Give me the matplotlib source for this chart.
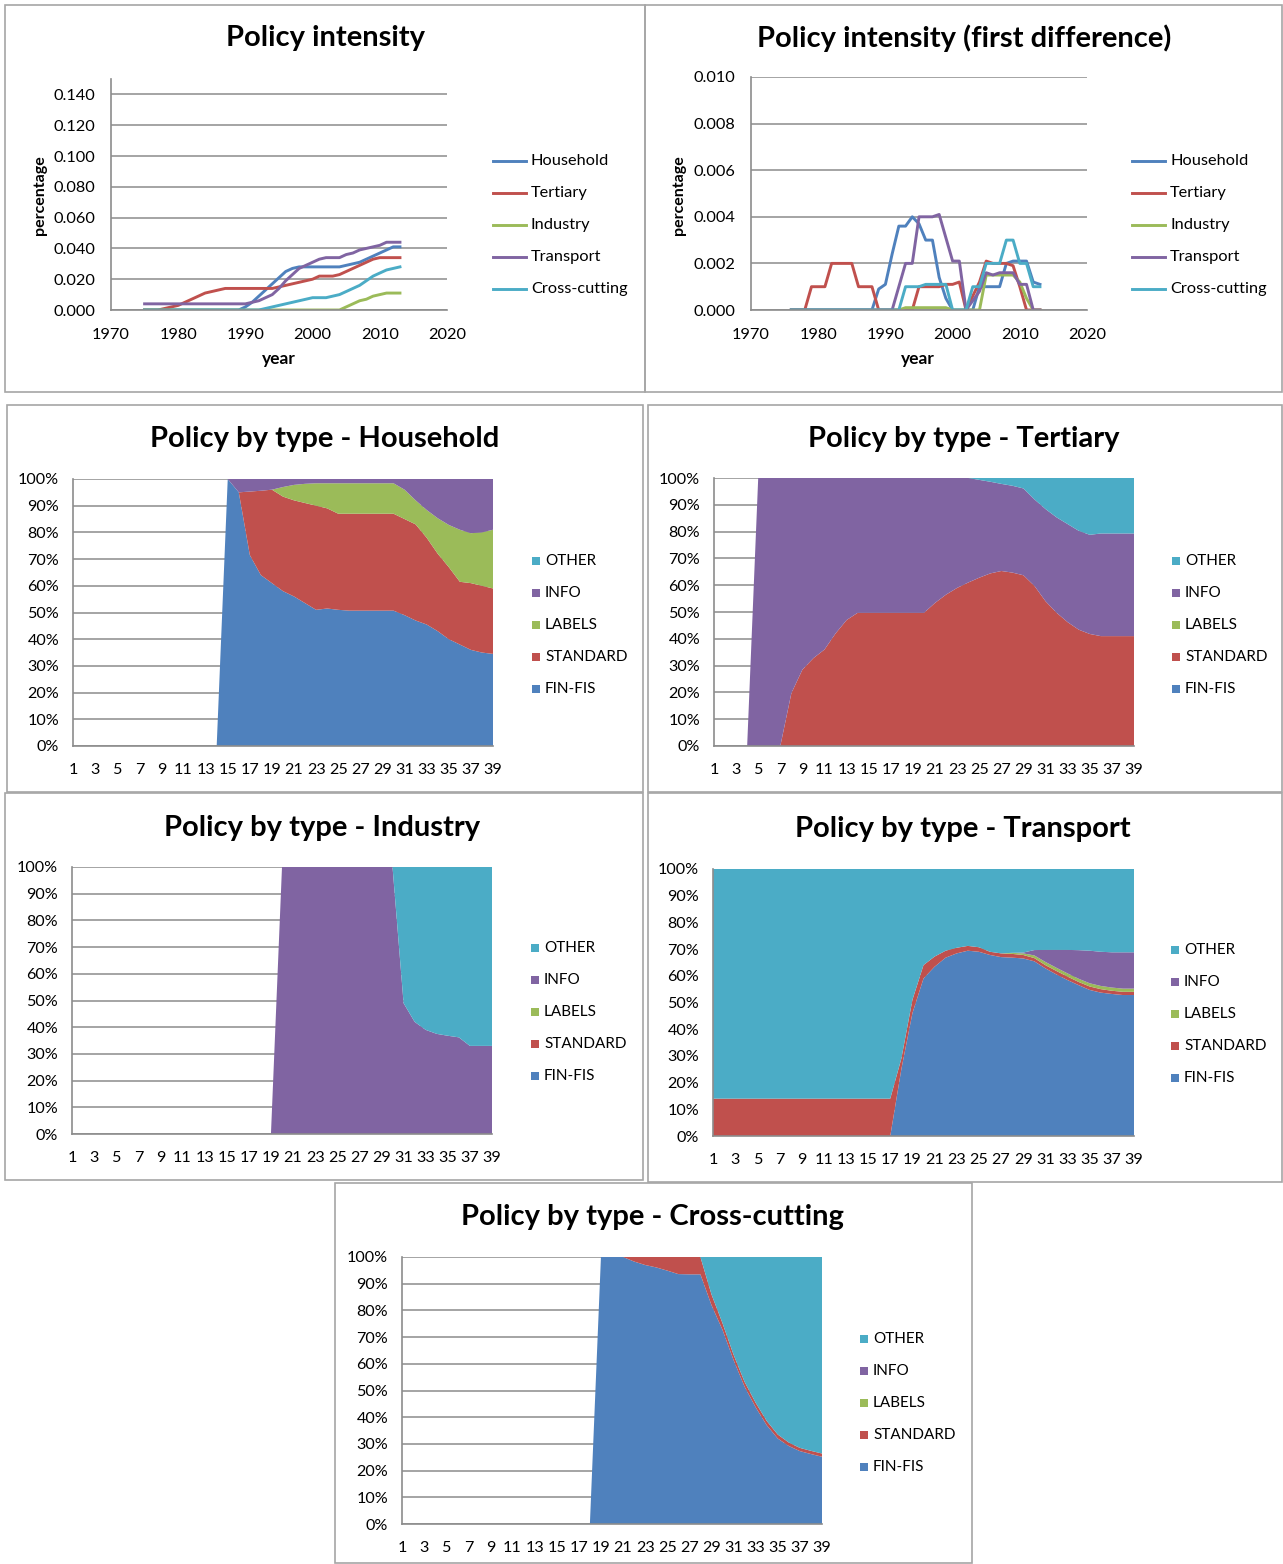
import numpy as np
import matplotlib
matplotlib.use("Agg")
import matplotlib.pyplot as plt
from matplotlib.patches import Rectangle
from matplotlib.lines import Line2D
from matplotlib.ticker import FuncFormatter

plt.rcParams['font.family'] = ['Lato', 'DejaVu Sans']

W, H = 1283, 1564

# ---- policy intensity, yearly 1975-2013 ----
years = list(range(1975, 2014))
intensity_household = [0, 0, 0, 0, 0, 0, 0, 0, 0, 0, 0, 0, 0, 0, 0,
                       0.002, 0.005, 0.009, 0.013, 0.017, 0.021, 0.025, 0.027, 0.028, 0.028,
                       0.028, 0.028, 0.028, 0.028, 0.028, 0.029, 0.030, 0.031, 0.033, 0.035,
                       0.037, 0.039, 0.041, 0.041]
intensity_tertiary = [0, 0, 0, 0.001, 0.002, 0.003, 0.005, 0.007, 0.009, 0.011,
                      0.012, 0.013, 0.014, 0.014, 0.014, 0.014, 0.014, 0.014, 0.014, 0.014,
                      0.015, 0.016, 0.017, 0.018, 0.019, 0.020, 0.022, 0.022, 0.022, 0.023,
                      0.025, 0.027, 0.029, 0.031, 0.033, 0.034, 0.034, 0.034, 0.034]
intensity_industry = [0, 0, 0, 0, 0, 0, 0, 0, 0, 0, 0, 0, 0, 0, 0, 0, 0, 0, 0, 0,
                      0, 0, 0, 0, 0, 0, 0, 0, 0, 0,
                      0.002, 0.004, 0.006, 0.007, 0.009, 0.010, 0.011, 0.011, 0.011]
intensity_transport = [0.004, 0.004, 0.004, 0.004, 0.004, 0.004, 0.004, 0.004, 0.004, 0.004,
                       0.004, 0.004, 0.004, 0.004, 0.004, 0.004, 0.005, 0.006, 0.008, 0.010,
                       0.014, 0.019, 0.023, 0.027, 0.029, 0.031, 0.033, 0.034, 0.034, 0.034,
                       0.036, 0.037, 0.039, 0.040, 0.041, 0.042, 0.044, 0.044, 0.044]
intensity_cross = [0, 0, 0, 0, 0, 0, 0, 0, 0, 0, 0, 0, 0, 0, 0, 0, 0, 0,
                   0.001, 0.002, 0.003, 0.004, 0.005, 0.006, 0.007, 0.008, 0.008, 0.008,
                   0.009, 0.010, 0.012, 0.014, 0.016, 0.019, 0.022, 0.024, 0.026, 0.027, 0.028]

# ---- first difference, yearly 1976-2013 ----
diff_years = list(range(1976, 2014))
diff_household = [0, 0, 0, 0, 0, 0, 0, 0, 0, 0, 0, 0, 0,
                  0.0009, 0.0011, 0.0024, 0.0036, 0.0036, 0.0040, 0.0037, 0.0030, 0.0030,
                  0.0014, 0.0005, 0, 0, 0, 0,
                  0.0010, 0.0010, 0.0010, 0.0010, 0.0020, 0.0021, 0.0021, 0.0021, 0.0012, 0.0011]
diff_tertiary = [0, 0, 0, 0.0010, 0.0010, 0.0010, 0.0020, 0.0020, 0.0020, 0.0020,
                 0.0010, 0.0010, 0.0010, 0, 0, 0, 0, 0, 0,
                 0.0010, 0.0010, 0.0010, 0.0010, 0.0011, 0.0011, 0.0012, 0, 0.0006,
                 0.0012, 0.0021, 0.0020, 0.0020, 0.0020, 0.0019, 0.0010, 0, 0, 0]
diff_industry = [0, 0, 0, 0, 0, 0, 0, 0, 0, 0, 0, 0, 0, 0, 0, 0, 0,
                 0.0001, 0.0001, 0.0001, 0.0001, 0.0001, 0.0001, 0.0001, 0, 0, 0, 0, 0,
                 0.0015, 0.0015, 0.0015, 0.0015, 0.0015, 0.0012, 0.0005, 0, 0]
diff_transport = [0, 0, 0, 0, 0, 0, 0, 0, 0, 0, 0, 0, 0, 0, 0, 0,
                  0.0010, 0.0020, 0.0020, 0.0040, 0.0040, 0.0040, 0.0041, 0.0031,
                  0.0021, 0.0021, 0, 0.0004, 0.0008, 0.0016, 0.0015, 0.0016, 0.0016,
                  0.0016, 0.0011, 0.0011, 0, 0]
diff_cross = [0, 0, 0, 0, 0, 0, 0, 0, 0, 0, 0, 0, 0, 0, 0, 0, 0,
              0.0010, 0.0010, 0.0010, 0.0011, 0.0011, 0.0011, 0.0011, 0, 0, 0,
              0.0010, 0.0010, 0.0020, 0.0020, 0.0020, 0.0030, 0.0030, 0.0020, 0.0020,
              0.0010, 0.0010]

sector_names = ['Household', 'Tertiary', 'Industry', 'Transport', 'Cross-cutting']
line_colors = ['#4F81BD', '#C0504D', '#9BBB59', '#8064A2', '#4BACC6']

# ---- policy mix by type (categories 1..39), shares in % ----
cats = list(range(1, 40))
type_names = ['FIN-FIS', 'STANDARD', 'LABELS', 'INFO', 'OTHER']
type_colors = ['#4F81BD', '#C0504D', '#9BBB59', '#8064A2', '#4BACC6']

hh_finfis = [0, 0, 0, 0, 0, 0, 0, 0, 0, 0, 0, 0, 0, 0,
             100, 95, 71.5, 64, 61, 58, 56, 53.5, 51, 51.5, 51, 50.7, 50.7, 50.7, 50.7,
             50.7, 49, 47, 45.5, 43, 40, 38, 36, 35, 34.5]
hh_standard = [0, 0, 0, 0, 0, 0, 0, 0, 0, 0, 0, 0, 0, 0,
               0, 0, 23.8, 31.6, 35, 35.4, 36, 37.5, 39, 37.5, 36, 36.3, 36.3, 36.3, 36.3,
               36.3, 36, 36, 32.5, 29, 27, 23.5, 25, 25, 24.5]
hh_labels = [0, 0, 0, 0, 0, 0, 0, 0, 0, 0, 0, 0, 0, 0,
             0, 0, 0, 0, 0, 3.6, 5.8, 7.2, 8.4, 9.4, 11.4, 11.4, 11.4, 11.4, 11.4,
             11.4, 11, 9, 10.4, 13.3, 15.8, 19.5, 18.7, 20, 22]
hh_info = [0, 0, 0, 0, 0, 0, 0, 0, 0, 0, 0, 0, 0, 0,
           0, 5, 4.7, 4.4, 4, 3, 2.2, 1.8, 1.6, 1.6, 1.6, 1.6, 1.6, 1.6, 1.6,
           1.6, 4, 8, 11.6, 14.7, 17.2, 19, 20.3, 20, 19]
hh_other = [0, 0, 0, 0, 0, 0, 0, 0, 0, 0, 0, 0, 0, 0, 0, 0, 0, 0, 0, 0,
            0, 0, 0, 0, 0, 0, 0, 0, 0, 0, 0, 0, 0, 0, 0, 0, 0, 0, 0]

te_finfis = [0, 0, 0, 0, 0, 0, 0, 0, 0, 0, 0, 0, 0, 0, 0, 0, 0, 0, 0, 0,
             0, 0, 0, 0, 0, 0, 0, 0, 0, 0, 0, 0, 0, 0, 0, 0, 0, 0, 0]
te_standard = [0, 0, 0, 0, 0, 0, 0, 19.7, 28.5, 32.8, 36, 42, 47, 49.7, 49.7, 49.7,
               49.7, 49.7, 49.7, 49.7, 53.4, 56.5, 59, 61, 62.8, 64.4, 65.3, 64.7, 63.7,
               59.7, 54, 49.7, 46.2, 43.4, 41.8, 41, 41, 41, 41]
te_labels = [0, 0, 0, 0, 0, 0, 0, 0, 0, 0, 0, 0, 0, 0, 0, 0, 0, 0, 0, 0,
             0, 0, 0, 0, 0, 0, 0, 0, 0, 0, 0, 0, 0, 0, 0, 0, 0, 0, 0]
te_info = [0, 0, 0, 0, 100, 100, 100, 80.3, 71.5, 67.2, 64, 58, 53, 50.3, 50.3, 50.3,
           50.3, 50.3, 50.3, 50.3, 46.6, 43.5, 41, 39, 36.5, 34.2, 32.5, 32.4, 32.4,
           32.3, 34.4, 35.6, 36.6, 36.9, 37, 38.3, 38.3, 38.3, 38.3]
te_other = [0, 0, 0, 0, 0, 0, 0, 0, 0, 0, 0, 0, 0, 0, 0, 0, 0, 0, 0, 0,
            0, 0, 0, 0, 0.7, 1.4, 2.2, 2.9, 3.9, 8, 11.6, 14.7, 17.2, 19.7, 21.2,
            20.7, 20.7, 20.7, 20.7]

in_finfis = [0, 0, 0, 0, 0, 0, 0, 0, 0, 0, 0, 0, 0, 0, 0, 0, 0, 0, 0, 0,
             0, 0, 0, 0, 0, 0, 0, 0, 0, 0, 0, 0, 0, 0, 0, 0, 0, 0, 0]
in_standard = [0, 0, 0, 0, 0, 0, 0, 0, 0, 0, 0, 0, 0, 0, 0, 0, 0, 0, 0, 0,
               0, 0, 0, 0, 0, 0, 0, 0, 0, 0, 0, 0, 0, 0, 0, 0, 0, 0, 0]
in_labels = [0, 0, 0, 0, 0, 0, 0, 0, 0, 0, 0, 0, 0, 0, 0, 0, 0, 0, 0, 0,
             0, 0, 0, 0, 0, 0, 0, 0, 0, 0, 0, 0, 0, 0, 0, 0, 0, 0, 0]
in_info = [0, 0, 0, 0, 0, 0, 0, 0, 0, 0, 0, 0, 0, 0, 0, 0, 0, 0, 0,
           100, 100, 100, 100, 100, 100, 100, 100, 100, 100, 100,
           49, 42, 39, 37.5, 36.8, 36.2, 33, 33, 33]
in_other = [0, 0, 0, 0, 0, 0, 0, 0, 0, 0, 0, 0, 0, 0, 0, 0, 0, 0, 0,
            0, 0, 0, 0, 0, 0, 0, 0, 0, 0, 0,
            51, 58, 61, 62.5, 63.2, 63.8, 67, 67, 67]

tr_finfis = [0, 0, 0, 0, 0, 0, 0, 0, 0, 0, 0, 0, 0, 0, 0, 0, 0,
             25, 46, 59, 63.4, 66.8, 68.4, 69.4, 69, 67.8, 67, 66.8, 66.5, 65.3,
             62.8, 60.5, 58.4, 56.5, 54.7, 53.7, 53.2, 52.8, 52.8]
tr_standard = [14, 14, 14, 14, 14, 14, 14, 14, 14, 14, 14, 14, 14, 14, 14, 14, 14,
               4, 5, 5, 3.8, 2.6, 2.1, 1.8, 1.7, 1.2, 1.4, 1.4, 1.3, 1.2,
               1.2, 1.3, 1.3, 1.2, 1.3, 1.3, 1.2, 1.2, 1.2]
tr_labels = [0, 0, 0, 0, 0, 0, 0, 0, 0, 0, 0, 0, 0, 0, 0, 0, 0, 0, 0, 0,
             0, 0, 0, 0, 0, 0, 0, 0.4, 0.6, 1.0, 1.2, 1.2, 1.2, 1.2, 1.2, 1.2, 1.2, 1.2, 1.2]
tr_info = [0, 0, 0, 0, 0, 0, 0, 0, 0, 0, 0, 0, 0, 0, 0, 0, 0, 0, 0, 0,
           0, 0, 0, 0, 0, 0, 0, 0, 0.3, 2, 4.5, 6.7, 8.8, 10.7, 12.2, 12.8, 13.2, 13.6, 13.6]
tr_other = [86, 86, 86, 86, 86, 86, 86, 86, 86, 86, 86, 86, 86, 86, 86, 86, 86,
            71, 49, 36, 32.8, 30.6, 29.5, 28.8, 29.3, 31, 31.6, 31.4, 31.3, 30.3,
            30.3, 30.3, 30.3, 30.4, 30.6, 31, 31.2, 31.2, 31.2]

cc_finfis = [0, 0, 0, 0, 0, 0, 0, 0, 0, 0, 0, 0, 0, 0, 0, 0, 0, 0,
             100, 100, 100, 98.3, 97, 96.1, 94.9, 93.6, 93.5, 93.5, 82, 72.7,
             61.4, 51.4, 43.7, 37, 32, 29.2, 27.3, 26.2, 25.2]
cc_standard = [0, 0, 0, 0, 0, 0, 0, 0, 0, 0, 0, 0, 0, 0, 0, 0, 0, 0,
               0, 0, 0, 1.7, 3, 3.9, 5.1, 6.4, 6.5, 6.5, 4, 2.5,
               2, 1.8, 1.7, 1.6, 1.5, 1.3, 1.2, 1.2, 1.2]
cc_labels = [0, 0, 0, 0, 0, 0, 0, 0, 0, 0, 0, 0, 0, 0, 0, 0, 0, 0, 0, 0,
             0, 0, 0, 0, 0, 0, 0, 0, 0, 0, 0, 0, 0, 0, 0, 0, 0, 0, 0]
cc_info = [0, 0, 0, 0, 0, 0, 0, 0, 0, 0, 0, 0, 0, 0, 0, 0, 0, 0, 0, 0,
           0, 0, 0, 0, 0, 0, 0, 0, 0, 0, 0, 0, 0, 0, 0, 0, 0, 0, 0]
cc_other = [0, 0, 0, 0, 0, 0, 0, 0, 0, 0, 0, 0, 0, 0, 0, 0, 0, 0,
            0, 0, 0, 0, 0, 0, 0, 0, 0, 0, 14, 24.8,
            36.6, 46.8, 54.6, 61.4, 66.5, 69.5, 71.5, 72.6, 73.6]

GRID = '#8C8C8C'
FRAME = '#A6A6A6'

fig = plt.figure(figsize=(W / 100, H / 100), dpi=100)


def rect(l, t, r, b):
    return [l / W, 1 - b / H, (r - l) / W, (b - t) / H]


def ftext(x, y, s, **kw):
    fig.text(x / W, 1 - y / H, s, **kw)


def panel(l, t, r, b):
    fig.add_artist(Rectangle((l / W, 1 - b / H), (r - l) / W, (b - t) / H,
                             transform=fig.transFigure, fill=False,
                             edgecolor=FRAME, lw=1.2))


def style_axes(ax, size):
    for side in ['top', 'right']:
        ax.spines[side].set_visible(False)
    for side in ['left', 'bottom']:
        ax.spines[side].set_color(GRID)
        ax.spines[side].set_linewidth(1.2)
    ax.grid(axis='y', color=GRID, lw=1.1)
    ax.set_axisbelow(True)
    ax.tick_params(length=0, labelsize=size, colors='black')


def line_panel(box, plot, title, title_xy, ylab_xy, xlab_xy, leg_x, xs, series, ymax, ystep, ytop):
    panel(*box)
    ax = fig.add_axes(rect(*plot))
    for s, c, n in zip(series, line_colors, sector_names):
        ax.plot(xs, s, color=c, lw=2.1, label=n)
    ax.set_xlim(1970, 2020)
    ax.set_ylim(0, ytop)
    ax.set_xticks(range(1970, 2021, 10))
    ax.set_yticks(np.arange(0, ymax + ystep / 2, ystep))
    ax.yaxis.set_major_formatter(FuncFormatter(lambda v, p: f'{v:.3f}'))
    style_axes(ax, 11.8)
    ax.tick_params(axis='y', pad=11)
    ax.tick_params(axis='x', pad=13)
    ftext(*title_xy, title, fontsize=21, fontweight='bold', ha='center', va='center')
    ftext(*ylab_xy, 'percentage', fontsize=11.5, fontweight='bold', rotation=90,
          ha='center', va='center')
    ftext(*xlab_xy, 'year', fontsize=12.5, fontweight='bold', ha='center', va='center')
    for i, (c, n) in enumerate(zip(line_colors, sector_names)):
        y = 161 + 32 * i
        fig.add_artist(Line2D([leg_x / W, (leg_x + 33) / W], [1 - y / H, 1 - y / H],
                              transform=fig.transFigure, color=c, lw=2.1))
        ftext(leg_x + 38, y, n, fontsize=11.8, ha='left', va='center')


def area_panel(box, plot, title, title_xy, leg_x, leg_y0, shares):
    panel(*box)
    ax = fig.add_axes(rect(*plot))
    arr = np.array(shares, dtype=float)
    tot = arr.sum(axis=0)
    frac = np.divide(arr, tot, out=np.zeros_like(arr), where=tot > 0)
    ax.stackplot(cats, *frac, colors=type_colors, lw=0)
    ax.set_xlim(1, 39)
    ax.set_ylim(0, 1)
    ax.set_xticks(cats[::2])
    ax.set_yticks(np.linspace(0, 1, 11))
    ax.yaxis.set_major_formatter(FuncFormatter(lambda v, p: f'{v:.0%}'))
    style_axes(ax, 11.6)
    ax.spines['left'].set_zorder(3)
    ax.tick_params(axis='y', pad=10)
    ax.tick_params(axis='x', pad=12)
    ax.grid(axis='y', color=GRID, lw=1.1, zorder=0)
    ax.set_axisbelow(True)
    ftext(*title_xy, title, fontsize=21, fontweight='bold', ha='center', va='center')
    for i, k in enumerate(range(4, -1, -1)):
        y = leg_y0 + 32 * i
        fig.add_artist(Rectangle(((leg_x - 4) / W, 1 - (y + 4) / H), 8 / W, 8 / H,
                                 transform=fig.transFigure, color=type_colors[k], lw=0))
        ftext(leg_x + 9, y, type_names[k], fontsize=11, ha='left', va='center')


line_panel((5, 5, 645, 392), (111, 79, 447, 310), 'Policy intensity', (325, 38),
           (40, 195), (279, 359), 493, years,
           [intensity_household, intensity_tertiary, intensity_industry,
            intensity_transport, intensity_cross], 0.14, 0.02, 0.15)
line_panel((645, 5, 1282, 392), (751, 77, 1087, 310), 'Policy intensity (first difference)',
           (964, 38), (679, 195), (918, 359), 1132, diff_years,
           [diff_household, diff_tertiary, diff_industry, diff_transport, diff_cross],
           0.010, 0.002, 0.010)

area_panel((7, 405, 643, 792), (73, 479, 493, 746), 'Policy by type - Household',
           (325, 439), 536, 561,
           [hh_finfis, hh_standard, hh_labels, hh_info, hh_other])
area_panel((648, 405, 1282, 792), (714, 478, 1134, 746), 'Policy by type - Tertiary',
           (964, 439), 1176, 561,
           [te_finfis, te_standard, te_labels, te_info, te_other])
area_panel((5, 793, 643, 1180), (72, 867, 492, 1134), 'Policy by type - Industry',
           (322, 828), 535, 948,
           [in_finfis, in_standard, in_labels, in_info, in_other])
area_panel((648, 793, 1282, 1182), (713, 869, 1134, 1136), 'Policy by type - Transport',
           (963, 829), 1175, 950,
           [tr_finfis, tr_standard, tr_labels, tr_info, tr_other])
area_panel((335, 1183, 972, 1563), (402, 1257, 822, 1524), 'Policy by type - Cross-cutting',
           (652, 1217), 864, 1339,
           [cc_finfis, cc_standard, cc_labels, cc_info, cc_other])

fig.savefig('out.png', dpi=100, facecolor='white')
